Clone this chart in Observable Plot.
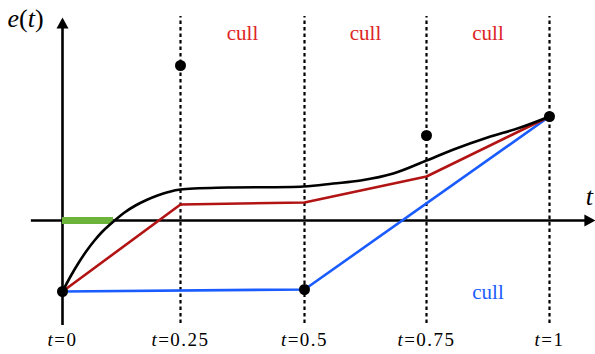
<!DOCTYPE html>
<html>
<head>
<meta charset="utf-8">
<script src="https://cdn.jsdelivr.net/npm/d3@7"></script>
<script src="https://cdn.jsdelivr.net/npm/@observablehq/plot@0.6"></script>
<style>
  body { margin: 0; background: #fff; }
  #chart svg { display: block; }
</style>
</head>
<body>
<div id="chart"></div>
<script>
// Knots of the piecewise reconstruction and the tick labels under them
const knotT = [0, 0.25, 0.5, 0.75, 1];
const boundaryT = [0.25, 0.5, 0.75, 1];
const tickLabels = ["t=0", "t=0.25", "t=0.5", "t=0.75", "t=1"];

// Smooth error curve e(t)
const curveT = [0, 0.0169, 0.0339, 0.0508, 0.0678, 0.0847, 0.108, 0.1314, 0.1547, 0.178,
                0.2013, 0.2246, 0.25, 0.345, 0.498, 0.559, 0.615, 0.682, 0.75, 0.805,
                0.874, 0.941, 1];
const curveE = [-0.71, -0.56, -0.425, -0.305, -0.2, -0.11, -0.01, 0.08, 0.15, 0.205,
                0.25, 0.285, 0.31, 0.33, 0.34, 0.37, 0.4, 0.47, 0.6, 0.71,
                0.83, 0.93, 1.04];

// Red piecewise-linear estimate
const redT = [0, 0.25, 0.5, 0.75, 1];
const redE = [-0.71, 0.16, 0.18, 0.44, 1.04];

// Blue piecewise-linear estimate
const blueT = [0, 0.5, 1];
const blueE = [-0.71, -0.69, 1.04];

// Sampled values at the knots
const sampleT = [0, 0.25, 0.5, 0.75, 1];
const sampleE = [-0.71, 1.55, -0.69, 0.85, 1.04];

// Interval where e(t) < 0 near the start
const negativeSpan = [0, 0.108];

// "cull" annotations
const redCullT = [0.375, 0.625, 0.875];
const blueCullT = [0.875];

const redLine = "#b21414";
const redText = "#dc2424";
const blue = "#1a5cff";
const green = "#6cb33c";
const serif = "Liberation Serif";

// The knot intervals are drawn with slightly unequal widths
const warp = d3.scaleLinear().domain(knotT).range([0, 118, 242, 364, 487]);

// Filled arrowheads with their tip at the anchor point
const arrowUp = {
  draw(ctx, size) {
    const r = Math.sqrt(size / Math.PI);
    ctx.moveTo(0, 0); ctx.lineTo(r, 1.85 * r); ctx.lineTo(-r, 1.85 * r); ctx.closePath();
  }
};
const arrowRight = {
  draw(ctx, size) {
    const r = Math.sqrt(size / Math.PI);
    ctx.moveTo(0, 0); ctx.lineTo(-1.85 * r, -r); ctx.lineTo(-1.85 * r, r); ctx.closePath();
  }
};

const zip = (ts, es) => ts.map((t, i) => ({t, e: es[i]}));
const curve = zip(curveT, curveE);
const red = zip(redT, redE);
const blueData = zip(blueT, blueE);
const samples = zip(sampleT, sampleE);

const xAxisSpan = [-0.066, 1.08];
const yAxisSpan = [-1.05, 1.94];

const chart = Plot.plot({
  width: 595,
  height: 354,
  margin: 0,
  style: {fontFamily: serif},
  x: {type: "linear", transform: warp, domain: [0, 487], range: [62, 549], axis: null},
  y: {domain: [-1.34, 2.2], range: [354, 0], axis: null},
  marks: [
    // knot boundaries
    Plot.ruleX(boundaryT, {y1: -1.03, y2: 2.04, stroke: "black", strokeWidth: 2.2, strokeDasharray: "3.5,3"}),
    // axes
    Plot.ruleY([0], {x1: xAxisSpan[0], x2: xAxisSpan[1], stroke: "black", strokeWidth: 2.6}),
    Plot.ruleX([0], {y1: yAxisSpan[0], y2: yAxisSpan[1], stroke: "black", strokeWidth: 2.6}),
    Plot.dot([{t: 0, e: 2.03}], {x: "t", y: "e", symbol: arrowUp, r: 6, fill: "black", stroke: "none"}),
    Plot.dot([{t: 1.0935, e: 0}], {x: "t", y: "e", symbol: arrowRight, r: 6, fill: "black", stroke: "none"}),
    // negative interval on the t axis
    Plot.ruleY([0], {x1: negativeSpan[0], x2: negativeSpan[1], stroke: green, strokeWidth: 7}),
    // estimates and the error curve
    Plot.line(blueData, {x: "t", y: "e", stroke: blue, strokeWidth: 2.6}),
    Plot.line(red, {x: "t", y: "e", stroke: redLine, strokeWidth: 2.6}),
    Plot.line(curve, {x: "t", y: "e", stroke: "black", strokeWidth: 2.6, curve: "catmull-rom"}),
    Plot.dot(samples, {x: "t", y: "e", r: 5.5, fill: "black", stroke: "none"}),
    // labels
    Plot.text(redCullT, {x: d => d, y: 1.87, text: () => "cull", fill: redText, fontSize: 21, fontFamily: serif}),
    Plot.text(blueCullT, {x: d => d, y: -0.72, text: () => "cull", fill: blue, fontSize: 21, fontFamily: serif}),
    Plot.text(knotT, {x: d => d, y: -1.19, text: (d, i) => tickLabels[i], fill: "black", fontSize: 19, fontFamily: serif}),
    Plot.text(["e(t)"], {x: -0.1165, y: 2.02, text: d => d, textAnchor: "start", fill: "black", fontSize: 26, fontFamily: serif}),
    Plot.text(["t"], {x: 1.081, y: 0.24, text: d => d, fill: "black", fontSize: 26, fontFamily: serif, fontStyle: "italic"})
  ]
});

// Italic variable names inside the labels, upright punctuation and digits
const svg = d3.select(chart);
svg.selectAll("text").each(function () {
  const s = this.textContent;
  const node = d3.select(this);
  const part = (str, italic) => node.append("tspan")
    .attr("font-family", serif)
    .attr("font-style", italic ? "italic" : "normal")
    .text(str);
  if (/^t=/.test(s)) {
    node.text(null).attr("font-family", serif).attr("letter-spacing", 1.5);
    part("t", true);
    part(s.slice(1), false);
  } else if (s === "e(t)") {
    node.text(null).attr("font-family", serif);
    part("e", true); part("(", false); part("t", true); part(")", false);
  }
});

document.getElementById("chart").append(chart);
</script>
</body>
</html>
